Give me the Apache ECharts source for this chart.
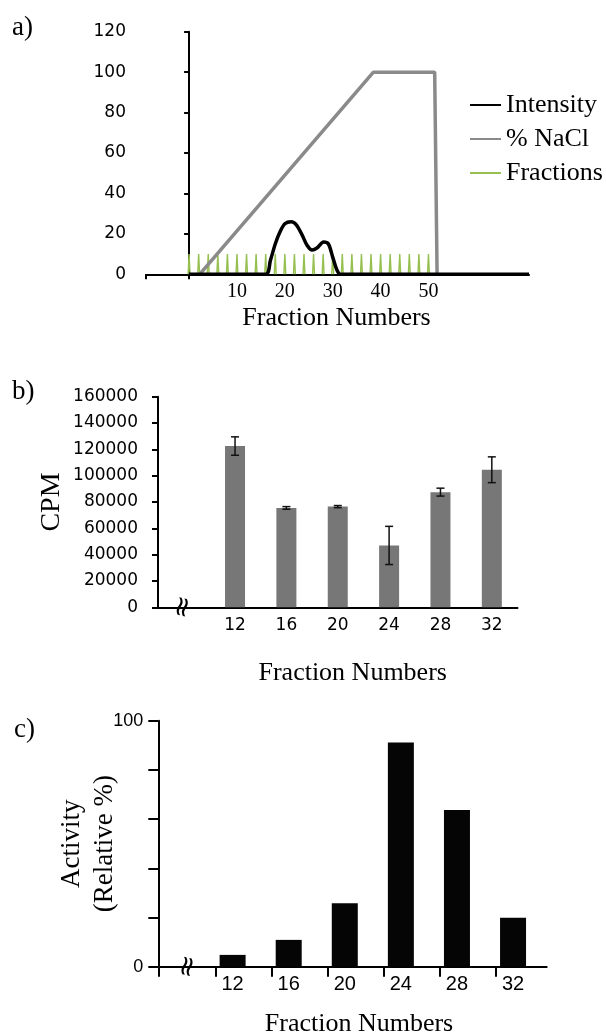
<!DOCTYPE html>
<html lang="en">
<head>
<meta charset="UTF-8">
<title>Fraction profiles</title>
<style>
  html, body { margin: 0; padding: 0; background: #fff; }
  #chart { width: 606px; height: 1036px; }
</style>
</head>
<body>
<div id="chart"></div>
<script src="https://cdn.jsdelivr.net/npm/echarts@6/dist/echarts.min.js"></script>
<script>
// a) elution profile
var intensityPts = [[0, 0], [16, 0], [17, 7], [18, 15], [19, 21], [20, 25], [21.3, 26], [22.4, 24.5],
  [23.6, 19.5], [24.6, 14.5], [25.7, 12], [26.7, 13], [28.1, 16], [29.1, 15], [30, 8.5], [30.9, 2],
  [31.6, 0], [71, 0]];
var naclPts = [[2.2, 0], [38.5, 100], [51.3, 100], [51.8, 0]];
var fractionX = [0, 2, 4, 6, 8, 10, 12, 14, 16, 18, 20, 22, 24, 26, 28, 30, 32, 34, 36, 38, 40, 42, 44, 46, 48, 50];
var fractionHeight = 10;
var aXLabels = [10, 20, 30, 40, 50];
var aXTicks = [-9, 0];

// b) CPM per fraction
var bCategories = ['', '12', '16', '20', '24', '28', '32'];
var cpm = ['-', 122500, 75500, 76500, 47000, 87500, 104500];
var cpmErr = ['-', 7000, 1000, 800, 14500, 3000, 9800];

// c) relative activity
var cFractions = [12, 16, 20, 24, 28, 32];
var activity = [4.8, 10.9, 25.8, 91.1, 63.7, 19.9];
var cTicks = [6.7, 10.8, 14.8, 18.8, 22.8, 26.8, 30.8];

var serif = 'Liberation Serif';

// thin spikes for the collected fractions
var fractionPts = [];
fractionX.forEach(function (x) {
  fractionPts.push([x - 0.2, 0], [x, fractionHeight], [x + 0.2, 0], [x + 0.25, '-']);
});

var errData = [];
cpm.forEach(function (v, i) {
  if (v !== '-') errData.push([i, v - cpmErr[i], v + cpmErr[i]]);
});

function renderErr(params, api) {
  var lo = api.coord([api.value(0), api.value(1)]);
  var hi = api.coord([api.value(0), api.value(2)]);
  var w = 4;
  var st = { stroke: '#111', lineWidth: 1.5 };
  return {
    type: 'group',
    children: [
      { type: 'line', shape: { x1: hi[0], y1: hi[1], x2: lo[0], y2: lo[1] }, style: st },
      { type: 'line', shape: { x1: hi[0] - w, y1: hi[1], x2: hi[0] + w, y2: hi[1] }, style: st },
      { type: 'line', shape: { x1: lo[0] - w, y1: lo[1], x2: lo[0] + w, y2: lo[1] }, style: st }
    ]
  };
}

// axis break mark drawn at a data position
function renderBreak(params, api) {
  var p = api.coord([api.value(0), api.value(1)]);
  return {
    type: 'text',
    x: p[0], y: p[1],
    rotation: 1.35,
    style: { text: '\u2248', font: '28px "DejaVu Sans"', fill: '#000', align: 'center', verticalAlign: 'middle' }
  };
}

function plain(v) { return String(v); }

var axisLine = { lineStyle: { color: '#000', width: 2 } };

var chart = echarts.init(document.getElementById('chart'));
var option = {
  animation: false,
  backgroundColor: '#fff',
  grid: [
    { left: 146, top: 31.7, width: 383, height: 242.6 },
    { left: 158, top: 396.7, width: 359.5, height: 210.6 },
    { left: 158.3, top: 720.7, width: 388.4, height: 246 }
  ],
  legend: {
    data: ['Intensity', '% NaCl', 'Fractions'],
    orient: 'vertical',
    left: 469,
    top: 91,
    padding: 0,
    itemWidth: 31,
    itemHeight: 4,
    itemGap: 6,
    itemStyle: { opacity: 0 },
    textStyle: { fontFamily: serif, fontSize: 26, color: '#000', lineHeight: 28 }
  },
  xAxis: [
    {
      gridIndex: 0, type: 'value', min: -9, max: 71,
      axisLine: axisLine,
      splitLine: { show: false },
      axisTick: { length: 5, customValues: aXTicks, lineStyle: { width: 2, color: '#000' } },
      axisLabel: { customValues: aXLabels, margin: 7, fontFamily: serif, fontSize: 20, color: '#000' }
    },
    {
      gridIndex: 1, type: 'category', data: bCategories,
      axisLine: axisLine,
      axisTick: { length: 7, lineStyle: { width: 2, color: '#000' } },
      axisLabel: { margin: 10, fontFamily: 'DejaVu Sans', fontSize: 17, color: '#000' }
    },
    {
      gridIndex: 2, type: 'value', min: 6.7, max: 34.4,
      axisLine: axisLine,
      splitLine: { show: false },
      axisTick: { length: 10, customValues: cTicks, lineStyle: { width: 2, color: '#000' } },
      axisLabel: { customValues: cFractions, margin: 8, fontFamily: 'Liberation Sans', fontSize: 20, color: '#000' }
    }
  ],
  yAxis: [
    {
      gridIndex: 0, type: 'value', min: 0, max: 120, interval: 20,
      axisLine: { show: true, lineStyle: { color: '#000', width: 2 } },
      axisTick: { show: true, length: 5, lineStyle: { width: 2, color: '#000' } },
      splitLine: { show: false },
      axisLabel: { margin: 20, fontFamily: 'DejaVu Sans', fontSize: 17, color: '#000', formatter: plain }
    },
    {
      gridIndex: 1, type: 'value', min: 0, max: 160000, interval: 20000,
      name: 'CPM', nameLocation: 'middle', nameRotate: 90, nameGap: 92, nameMoveOverlap: false,
      nameTextStyle: { fontFamily: serif, fontSize: 28, color: '#000' },
      axisLine: { show: true, lineStyle: { color: '#000', width: 2 } },
      axisTick: { show: true, length: 6, lineStyle: { width: 2, color: '#000' } },
      splitLine: { show: false },
      axisLabel: { margin: 20, fontFamily: 'DejaVu Sans', fontSize: 17, color: '#000', formatter: plain }
    },
    {
      gridIndex: 2, type: 'value', min: 0, max: 100, interval: 20,
      name: 'Activity\n(Relative %)', nameLocation: 'middle', nameRotate: 90, nameGap: 37, nameMoveOverlap: false,
      nameTextStyle: { fontFamily: serif, fontSize: 27, color: '#000', lineHeight: 33 },
      axisLine: { show: true, lineStyle: { color: '#000', width: 2 } },
      axisTick: { show: true, length: 10, lineStyle: { width: 2, color: '#000' } },
      splitLine: { show: false },
      axisLabel: {
        margin: 15, fontFamily: 'Liberation Sans', fontSize: 18, color: '#000',
        formatter: function (v) { return (v === 0 || v === 100) ? String(v) : ''; }
      }
    }
  ],
  series: [
    {
      name: 'Intensity', type: 'line', xAxisIndex: 0, yAxisIndex: 0, z: 5,
      data: intensityPts, smooth: 0.3, symbol: 'none',
      itemStyle: { color: '#000' },
      lineStyle: { color: '#000', width: 3.5 }
    },
    {
      name: '% NaCl', type: 'line', xAxisIndex: 0, yAxisIndex: 0, z: 4,
      data: naclPts, symbol: 'none',
      itemStyle: { color: '#8a8a8a' },
      lineStyle: { color: '#8a8a8a', width: 3.5 }
    },
    {
      name: 'Fractions', type: 'line', xAxisIndex: 0, yAxisIndex: 0, z: 3,
      data: fractionPts, symbol: 'none',
      itemStyle: { color: '#96c04f' },
      lineStyle: { color: '#96c04f', width: 1.4 }
    },
    {
      type: 'bar', xAxisIndex: 1, yAxisIndex: 1,
      data: cpm, barWidth: 20,
      itemStyle: { color: '#777777' }
    },
    {
      type: 'custom', xAxisIndex: 1, yAxisIndex: 1, z: 5,
      data: errData, renderItem: renderErr
    },
    {
      type: 'custom', xAxisIndex: 1, yAxisIndex: 1, z: 6,
      data: [[0, 0]], renderItem: renderBreak
    },
    {
      type: 'bar', xAxisIndex: 2, yAxisIndex: 2,
      data: cFractions.map(function (f, i) { return [f, activity[i]]; }),
      barWidth: 26,
      itemStyle: { color: '#050505' }
    },
    {
      type: 'custom', xAxisIndex: 2, yAxisIndex: 2, z: 6,
      data: [[8.86, 0]], renderItem: renderBreak
    }
  ],
  graphic: [
    { type: 'text', left: 12, top: 14, style: { text: 'a)', font: '27px "Liberation Serif"', fill: '#000' } },
    { type: 'text', left: 12, top: 378, style: { text: 'b)', font: '27px "Liberation Serif"', fill: '#000' } },
    { type: 'text', left: 14, top: 716, style: { text: 'c)', font: '27px "Liberation Serif"', fill: '#000' } },
    { type: 'text', x: 336.5, y: 318, style: { text: 'Fraction Numbers', font: '26px "Liberation Serif"', fill: '#000', align: 'center', verticalAlign: 'middle' } },
    { type: 'text', x: 352.7, y: 673, style: { text: 'Fraction Numbers', font: '26px "Liberation Serif"', fill: '#000', align: 'center', verticalAlign: 'middle' } },
    { type: 'text', x: 359, y: 1024, style: { text: 'Fraction Numbers', font: '26px "Liberation Serif"', fill: '#000', align: 'center', verticalAlign: 'middle' } }
  ]
};
chart.setOption(option);
</script>
</body>
</html>
